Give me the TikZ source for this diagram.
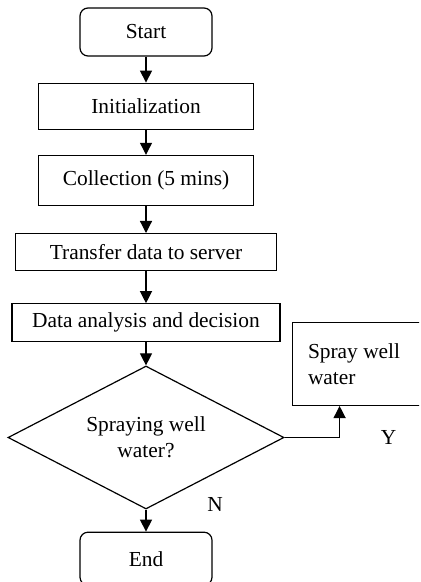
\documentclass[tikz,border=0pt]{standalone}
\usepackage{fontspec}
\setmainfont{Liberation Serif}
\usetikzlibrary{positioning, shapes.geometric, arrows.meta}

\begin{document}
\begin{tikzpicture}[
    box/.style={draw, rectangle, line width=0.6pt, inner sep=1pt},
    term/.style={box, rounded corners=4pt},
    arr/.style={line width=0.6pt, -{Triangle[width=6pt, length=6pt]}},
    font=\fontsize{10.7pt}{13pt}\selectfont]
      \useasboundingbox (0,0) rectangle (210pt,-291pt);
      \clip (0,0) rectangle (209.6pt,-291pt);
      \node[term, minimum width=66pt, minimum height=24pt]
        (St) at (73pt,-16pt) {Start};
      \node[box, minimum width=107.5pt, minimum height=23pt, below=13pt of St]
        (In) {Initialization};
      \node[box, minimum width=107.5pt, minimum height=25pt, below=12.5pt of In]
        (Co) {Collection (5 mins)};
      \node[box, minimum width=130.5pt, minimum height=18.5pt, below=13.5pt of Co]
        (Tr) {Transfer data to server};
      \node[box, minimum width=134pt, minimum height=19pt, below=16pt of Tr]
        (An) {Data analysis and decision};
      \node[draw, diamond, line width=0.6pt, aspect=1.93, inner sep=1pt,
            minimum width=138pt, minimum height=71.5pt, align=center, below=11.5pt of An]
        (De) {Spraying well\\water?};
      \node[term, minimum width=66pt, minimum height=26.5pt, below=11pt of De]
        (En) {End};
      \node[box, minimum width=90pt, minimum height=41.5pt,
            above right=15.75pt and 3.5pt of De.east]
        (Sp) {};
      % text sits 8pt in from the left edge of the cut-off box
      \node[anchor=west, align=left, inner sep=0pt] (SpT) at ([xshift=8pt]Sp.west) {Spray well\\water};
      \coordinate[xshift=24pt] (SpIn) at (Sp.south west);
      \node (Y) at ([xshift=52pt]De.east) {Y};
      \node (N) at ([xshift=34.5pt, yshift=2.5pt]De.south) {N};
      \draw[arr] (St) -- (In);
      \draw[arr] (In) -- (Co);
      \draw[arr] (Co) -- (Tr);
      \draw[arr] (Tr) -- (An);
      \draw[arr] (An) -- (De);
      \draw[arr] (De) -- (En);
      \draw[arr] (De.east) -| (SpIn);
    \end{tikzpicture}
\end{document}
